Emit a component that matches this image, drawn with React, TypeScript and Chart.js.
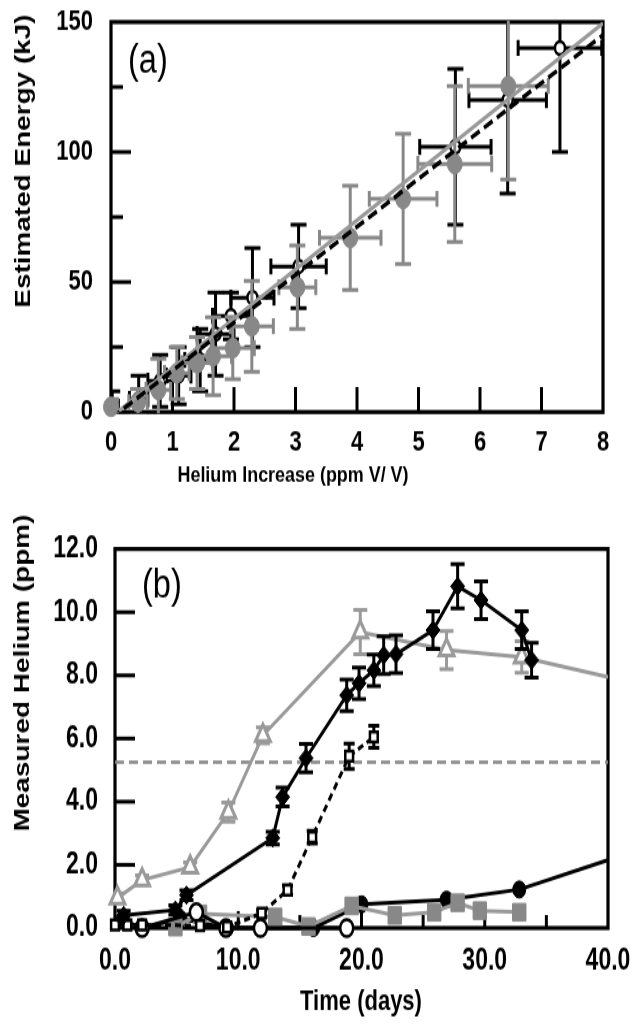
import React, { useEffect, useRef } from 'react';
import { Chart, registerables } from 'chart.js';

Chart.register(...registerables);

const FONT = '"Liberation Sans", Arial, sans-serif';
const GRAY = '#888888';
const LIGHTGRAY = '#9a9a9a';

// The reference figure is stretched vertically; canvases are drawn short and stretched by CSS.
const STRETCH = 1.3;
const W = 634;
const HA = Math.round(500 / STRETCH);
const HB = Math.round(536 / STRETCH);
const KA = 500 / HA;
const KB = 536 / HB;

// ---------- Panel (a) data ----------
const aGrayX = [0.0, 0.44, 0.77, 1.07, 1.4, 1.66, 1.98, 2.29, 3.03, 3.89, 4.75, 5.59, 6.46];
const aGrayY = [2, 3.8, 8.5, 15, 18.8, 21.5, 24.6, 33, 48, 67, 82, 95.4, 125.4];
const aGrayXErr = [0.1, 0.15, 0.2, 0.2, 0.25, 0.3, 0.35, 0.35, 0.3, 0.5, 0.55, 0.6, 0.65];
const aGrayYErr = [3, 5, 12, 10, 10, 15, 12, 17.5, 16, 20, 25, 30, 36];

const aBlackX = [0.02, 0.45, 0.8, 1.1, 1.45, 1.7, 1.95, 2.3, 3.05, 5.6, 6.45, 7.3];
const aBlackY = [2, 5, 12, 14, 20, 30, 37, 44, 56, 102, 120, 140];
const aBlackXErr = [0.1, 0.15, 0.2, 0.2, 0.25, 0.3, 0.3, 0.35, 0.45, 0.58, 0.63, 0.68];
const aBlackYErr = [6, 9, 10, 11, 12, 16, 9, 19, 16, 30, 36, 40];

const aFitX = [0, 8];
const aGrayFitY = [-2, 149.5];
const aBlackFitY = [-2.5, 145];

// ---------- Panel (b) data ----------
const bDiamondDays = [0.7, 4.9, 5.8, 12.8, 13.6, 15.5, 18.8, 19.8, 21.0, 21.8, 22.8, 25.8, 27.8, 29.7, 33.0, 33.8];
const bDiamondVals = [0.4, 0.57, 1.04, 2.85, 4.15, 5.38, 7.37, 7.75, 8.16, 8.64, 8.67, 9.43, 10.82, 10.38, 9.43, 8.48];
const bDiamondErr = [0.15, 0.15, 0.15, 0.2, 0.3, 0.45, 0.5, 0.5, 0.5, 0.6, 0.6, 0.6, 0.7, 0.6, 0.6, 0.55];

const bTriangleDays = [0.2, 2.2, 6.1, 9.2, 12.0, 19.9, 26.9, 33.0, 40];
const bTriangleVals = [0.95, 1.52, 1.93, 3.67, 6.1, 9.37, 8.8, 8.58, 7.95];
const bTriangleErr = [0.15, 0.15, 0.15, 0.3, 0.25, 0.7, 0.6, 0.5, 0];

const bOpenSquareDays = [0, 1.0, 2.2, 6.9, 9.1, 11.9, 14.0, 16.0, 19.0, 21.0];
const bOpenSquareVals = [0.1, 0.1, 0.1, 0.08, 0.03, 0.47, 1.2, 2.88, 5.44, 6.05];
const bOpenSquareErr = [0, 0, 0, 0, 0, 0.1, 0.15, 0.2, 0.4, 0.35];

const bOpenCircleDays = [2.2, 6.6, 9.0, 11.8, 18.8];
const bOpenCircleVals = [0.0, 0.5, 0.0, 0.0, 0.0];

const bBlackCircleDays = [0.6, 2.2, 5.3, 9.1, 16.1, 20.0, 26.9, 32.8, 40];
const bBlackCircleVals = [0.25, 0.0, 0.3, 0.0, 0.0, 0.75, 0.9, 1.22, 2.15];

const bGraySquareDays = [4.9, 6.9, 13.0, 15.7, 19.2, 22.7, 25.9, 27.8, 29.6, 32.8];
const bGraySquareVals = [0.03, 0.45, 0.35, 0.05, 0.7, 0.4, 0.5, 0.8, 0.55, 0.5];

const bThresholdDays = [0, 40];
const bThresholdVals = [5.25, 5.25];

const pts = (xs: number[], ys: number[]) => xs.map((x, i) => ({ x, y: ys[i] }));

type ErrSet = { ds: number; x: number[]; y: number[]; xe?: number[]; ye?: number[]; color: string; width: number; cap: number; k: number };

function errorBarPlugin(sets: ErrSet[]) {
  return {
    id: 'errbars',
    beforeDatasetDraw(chart: any, args: any) {
      const s = sets.find((q) => q.ds === args.index);
      if (!s) return;
      const { ctx, chartArea: ca, scales } = chart;
      const xs = scales.x;
      const ys = scales.y;
      ctx.save();
      ctx.beginPath();
      ctx.rect(ca.left, ca.top - 1, ca.right - ca.left + 1, ca.bottom - ca.top + 2);
      ctx.clip();
      ctx.strokeStyle = s.color;
      ctx.lineWidth = s.width;
      const h = s.cap / 2;
      const hv = h / s.k;
      s.x.forEach((xv, i) => {
        const yv = s.y[i];
        const px = xs.getPixelForValue(xv);
        const py = ys.getPixelForValue(yv);
        const ye = s.ye ? s.ye[i] : 0;
        const xe = s.xe ? s.xe[i] : 0;
        ctx.beginPath();
        if (ye > 0) {
          const t = ys.getPixelForValue(yv + ye);
          const b = ys.getPixelForValue(yv - ye);
          ctx.moveTo(px, t); ctx.lineTo(px, b);
          ctx.moveTo(px - h, t); ctx.lineTo(px + h, t);
          ctx.moveTo(px - h, b); ctx.lineTo(px + h, b);
        }
        if (xe > 0) {
          const l = xs.getPixelForValue(xv - xe);
          const r = xs.getPixelForValue(xv + xe);
          ctx.moveTo(l, py); ctx.lineTo(r, py);
          ctx.moveTo(l, py - hv); ctx.lineTo(l, py + hv);
          ctx.moveTo(r, py - hv); ctx.lineTo(r, py + hv);
        }
        ctx.stroke();
      });
      ctx.restore();
    },
  };
}

function framePlugin(o: { xMaj: number; xMin: number; yMaj: number; yMin: number; isMajX: (v: number) => boolean; isMajY: (v: number) => boolean }) {
  return {
    id: 'frame',
    beforeDatasetsDraw(chart: any) {
      const { ctx, chartArea: ca, scales } = chart;
      const xs = scales.x;
      const ys = scales.y;
      ctx.save();
      ctx.strokeStyle = '#000';
      ctx.lineWidth = 3;
      xs.ticks.forEach((t: any) => {
        if (t.value <= xs.min || t.value >= xs.max) return;
        const px = xs.getPixelForValue(t.value);
        const len = o.isMajX(t.value) ? o.xMaj : o.xMin;
        ctx.beginPath(); ctx.moveTo(px, ca.bottom); ctx.lineTo(px, ca.bottom - len); ctx.stroke();
      });
      ys.ticks.forEach((t: any) => {
        if (t.value <= ys.min || t.value >= ys.max) return;
        const py = ys.getPixelForValue(t.value);
        const len = o.isMajY(t.value) ? o.yMaj : o.yMin;
        ctx.beginPath(); ctx.moveTo(ca.left, py); ctx.lineTo(ca.left + len, py); ctx.stroke();
      });
      ctx.lineWidth = 3.2;
      ctx.strokeRect(ca.left, ca.top, ca.right - ca.left, ca.bottom - ca.top);
      ctx.restore();
    },
  };
}

type TextSpec = { text: string; x: number; y: number; font: string; rot?: number; sx?: number; align?: CanvasTextAlign };

function textPlugin(specs: TextSpec[]) {
  return {
    id: 'texts',
    afterDraw(chart: any) {
      const ctx = chart.ctx;
      specs.forEach((s) => {
        ctx.save();
        ctx.translate(s.x, s.y);
        if (s.rot) ctx.rotate(s.rot);
        ctx.scale(s.sx || 1, 1);
        ctx.font = s.font;
        ctx.fillStyle = '#000';
        ctx.textAlign = s.align || 'center';
        ctx.textBaseline = 'middle';
        ctx.fillText(s.text, 0, 0);
        ctx.restore();
      });
    },
  };
}

const fixX = (h: number) => (s: any) => {
  s.height = h;
  s.paddingLeft = 0;
  s.paddingRight = 0;
  s.paddingTop = 0;
  s.paddingBottom = 0;
};
const fixY = (w: number) => (s: any) => {
  s.width = w;
  s.paddingLeft = 0;
  s.paddingRight = 0;
  s.paddingTop = 0;
  s.paddingBottom = 0;
};

function makeConfigA(): any {
  const tickFont = { family: FONT, size: 22, weight: 'bold' as const };
  return {
    type: 'scatter',
    data: {
      datasets: [
        {
          label: 'Fit (black)', data: pts(aFitX, aBlackFitY), showLine: true, borderColor: '#000', borderWidth: 3.4,
          borderDash: [10, 5], pointRadius: 0,
        },
        {
          label: 'Fit (gray)', data: pts(aFitX, aGrayFitY), showLine: true, borderColor: LIGHTGRAY, borderWidth: 3.2, pointRadius: 0,
        },
        {
          label: 'Gray', data: pts(aGrayX, aGrayY), pointStyle: 'circle', pointRadius: 7.5, backgroundColor: GRAY,
          borderColor: GRAY, borderWidth: 1, clip: false,
        },
        {
          label: 'Black', data: pts(aBlackX, aBlackY), pointStyle: 'circle', pointRadius: 5, backgroundColor: '#fff',
          borderColor: '#000', borderWidth: 2.5, clip: false,
        },
      ],
    },
    options: {
      responsive: false, animation: false, events: [], devicePixelRatio: 1,
      layout: { padding: { top: 22 / KA, right: 31, left: 0, bottom: 0 } },
      plugins: { legend: { display: false }, tooltip: { enabled: false } },
      scales: {
        x: {
          type: 'linear', min: 0, max: 8,
          grid: { display: false, drawTicks: false }, border: { display: false },
          ticks: { stepSize: 1, autoSkip: false, maxRotation: 0, color: '#000', font: tickFont, padding: 10 },
          afterFit: fixX(88 / KA),
        },
        y: {
          type: 'linear', min: 0, max: 150,
          grid: { display: false, drawTicks: false }, border: { display: false },
          ticks: {
            stepSize: 25, autoSkip: false, color: '#000', font: tickFont, padding: 18,
            callback: (v: any) => (Number(v) % 50 === 0 ? String(v) : ''),
          },
          afterFit: fixY(111),
        },
      },
    },
    plugins: [
      framePlugin({ xMaj: 25 / KA, xMin: 25 / KA, yMaj: 20, yMin: 12, isMajX: () => true, isMajY: (v) => v % 50 === 0 }),
      errorBarPlugin([
        { ds: 2, x: aGrayX, y: aGrayY, xe: aGrayXErr, ye: aGrayYErr, color: GRAY, width: 3, cap: 16, k: KA },
        { ds: 3, x: aBlackX, y: aBlackY, xe: aBlackXErr, ye: aBlackYErr, color: '#000', width: 3, cap: 16, k: KA },
      ]),
      textPlugin([
        { text: '(a)', x: 128, y: 62 / KA, font: `31px ${FONT}`, align: 'left', sx: 1.05 },
        { text: 'Estimated Energy (kJ)', x: 24, y: 161 / KA, font: `bold 21.5px ${FONT}`, rot: -Math.PI / 2 },
        { text: 'Helium Increase (ppm V/ V)', x: 293, y: 476 / KA, font: `bold 16px ${FONT}`, sx: 1.12 },
      ]),
    ],
  };
}

function makeConfigB(): any {
  const tickFont = { family: FONT, size: 23, weight: 'bold' as const };
  const endless = (r: number) => (c: any) => (c.raw && c.raw.x >= 40 ? 0 : r);
  return {
    type: 'scatter',
    data: {
      datasets: [
        {
          label: 'Diamonds', data: pts(bDiamondDays, bDiamondVals), showLine: true, borderColor: '#000', borderWidth: 3,
          pointStyle: 'rectRot', pointRadius: 7, backgroundColor: '#000', pointBorderColor: '#000', pointBorderWidth: 1, clip: false,
        },
        {
          label: 'Open squares', data: pts(bOpenSquareDays, bOpenSquareVals), showLine: true, borderColor: '#000', borderWidth: 3,
          borderDash: [6, 4], pointStyle: 'rect', pointRadius: 5.5, backgroundColor: '#fff', pointBorderColor: '#000',
          pointBorderWidth: 2.5, clip: false,
        },
        {
          label: 'Triangles', data: pts(bTriangleDays, bTriangleVals), showLine: true, borderColor: LIGHTGRAY, borderWidth: 3,
          pointStyle: 'triangle', pointRadius: endless(8.5), backgroundColor: '#fff', pointBorderColor: LIGHTGRAY,
          pointBorderWidth: 3, clip: false,
        },
        {
          label: 'Open circles', data: pts(bOpenCircleDays, bOpenCircleVals), showLine: true, borderColor: '#000', borderWidth: 3,
          pointStyle: 'circle', pointRadius: 6.5, backgroundColor: '#fff', pointBorderColor: '#000', pointBorderWidth: 2.5, clip: false,
        },
        {
          label: 'Gray squares', data: pts(bGraySquareDays, bGraySquareVals), showLine: true, borderColor: LIGHTGRAY, borderWidth: 3,
          pointStyle: 'rect', pointRadius: 9.5, backgroundColor: GRAY, pointBorderColor: GRAY, pointBorderWidth: 1, clip: false,
        },
        {
          label: 'Black circles', data: pts(bBlackCircleDays, bBlackCircleVals), showLine: true, borderColor: '#000', borderWidth: 3,
          pointStyle: 'circle', pointRadius: endless(6.5), backgroundColor: '#000', pointBorderColor: '#000', pointBorderWidth: 1, clip: false,
        },
        {
          label: 'Threshold', data: pts(bThresholdDays, bThresholdVals), showLine: true, borderColor: GRAY, borderWidth: 2.6,
          borderDash: [9, 5], pointRadius: 0,
        },
      ],
    },
    options: {
      responsive: false, animation: false, events: [], devicePixelRatio: 1,
      layout: { padding: { top: 49 / KB, right: 26, left: 0, bottom: 0 } },
      plugins: { legend: { display: false }, tooltip: { enabled: false } },
      scales: {
        x: {
          type: 'linear', min: 0, max: 40,
          grid: { display: false, drawTicks: false }, border: { display: false },
          ticks: {
            stepSize: 5, autoSkip: false, maxRotation: 0, color: '#000', font: tickFont, padding: 12,
            callback: (v: any) => (Number(v) % 10 === 0 ? Number(v).toFixed(1) : ''),
          },
          afterFit: fixX(108 / KB),
        },
        y: {
          type: 'linear', min: 0, max: 12,
          grid: { display: false, drawTicks: false }, border: { display: false },
          ticks: {
            stepSize: 2, autoSkip: false, color: '#000', font: tickFont, padding: 17,
            callback: (v: any) => Number(v).toFixed(1),
          },
          afterFit: fixY(115),
        },
      },
    },
    plugins: [
      framePlugin({ xMaj: 17 / KB, xMin: 13 / KB, yMaj: 20, yMin: 20, isMajX: (v) => v % 10 === 0, isMajY: () => true }),
      errorBarPlugin([
        { ds: 0, x: bDiamondDays, y: bDiamondVals, ye: bDiamondErr, color: '#000', width: 3, cap: 14, k: KB },
        { ds: 1, x: bOpenSquareDays, y: bOpenSquareVals, ye: bOpenSquareErr, color: '#000', width: 3, cap: 11, k: KB },
        { ds: 2, x: bTriangleDays, y: bTriangleVals, ye: bTriangleErr, color: LIGHTGRAY, width: 3, cap: 14, k: KB },
      ]),
      textPlugin([
        { text: '(b)', x: 142, y: 86 / KB, font: `31px ${FONT}`, align: 'left', sx: 1.05 },
        { text: 'Measured Helium (ppm)', x: 23, y: 173 / KB, font: `bold 21.5px ${FONT}`, rot: -Math.PI / 2 },
        { text: 'Time (days)', x: 361, y: 502 / KB, font: `bold 22px ${FONT}` },
      ]),
    ],
  };
}

export default function App() {
  const refA = useRef<HTMLCanvasElement>(null);
  const refB = useRef<HTMLCanvasElement>(null);

  useEffect(() => {
    const ca = new Chart(refA.current as HTMLCanvasElement, makeConfigA());
    const cb = new Chart(refB.current as HTMLCanvasElement, makeConfigB());
    return () => {
      ca.destroy();
      cb.destroy();
    };
  }, []);

  return (
    <div style={{ position: 'absolute', left: 0, top: 0, width: W, height: 1036, background: '#fff' }}>
      <canvas ref={refA} width={W} height={HA} style={{ position: 'absolute', left: 0, top: 0, width: W, height: 500 }} />
      <canvas ref={refB} width={W} height={HB} style={{ position: 'absolute', left: 0, top: 500, width: W, height: 536 }} />
    </div>
  );
}
